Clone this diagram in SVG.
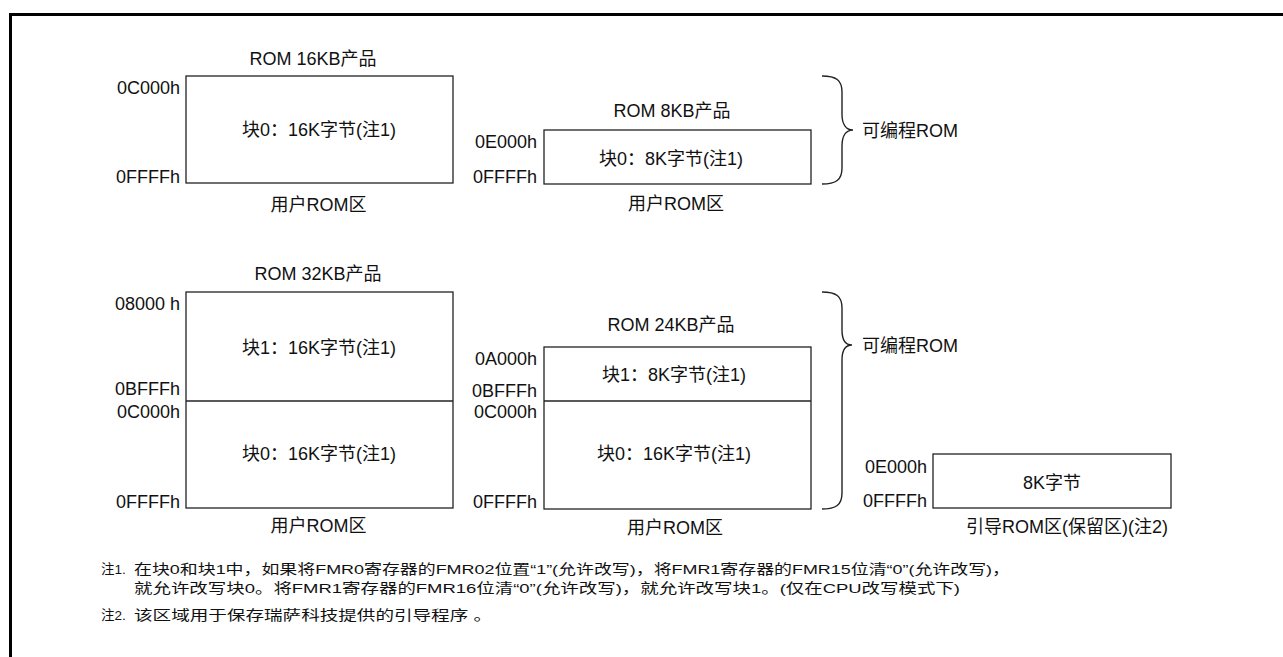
<svg xmlns="http://www.w3.org/2000/svg" width="1283" height="657" viewBox="0 0 1283 657">
<style>
.t{font-family:"Liberation Sans","Noto Sans CJK SC",sans-serif;font-size:18px;fill:#111}
.r{text-anchor:end}
.m{text-anchor:middle}
.n{font-size:13.5px}
.box{fill:#fff;stroke:#222;stroke-width:1.3}
.ln{stroke:#222;stroke-width:1.3;fill:none}
.brace{fill:none;stroke:#222;stroke-width:1.4}
</style>
<rect width="1283" height="657" fill="#fff"/>
<path d="M10.5,657 V14.5 H1283" fill="none" stroke="#000" stroke-width="3"/>

<g id="rom16">
<text class="t m" x="313" y="65">ROM 16KB产品</text>
<rect class="box" x="186" y="76" width="267" height="107"/>
<text class="t r" x="180" y="94">0C000h</text>
<text class="t r" x="180" y="183">0FFFFh</text>
<text class="t m" x="319" y="136">块0：16K字节(注1)</text>
<text class="t m" x="318.5" y="211">用户ROM区</text>
</g>

<g id="rom8">
<text class="t m" x="672" y="117">ROM 8KB产品</text>
<rect class="box" x="544" y="130" width="267" height="54"/>
<text class="t r" x="537" y="148">0E000h</text>
<text class="t r" x="537" y="183">0FFFFh</text>
<text class="t m" x="671" y="165">块0：8K字节(注1)</text>
<text class="t m" x="676" y="210">用户ROM区</text>
</g>

<g id="rom32">
<text class="t m" x="318" y="280">ROM 32KB产品</text>
<rect class="box" x="186" y="292" width="267" height="216"/>
<line class="ln" x1="186" y1="401" x2="453" y2="401"/>
<text class="t r" x="180" y="310">08000 h</text>
<text class="t r" x="180" y="395">0BFFFh</text>
<text class="t r" x="180" y="418">0C000h</text>
<text class="t r" x="180" y="508">0FFFFh</text>
<text class="t m" x="319" y="354">块1：16K字节(注1)</text>
<text class="t m" x="319" y="460">块0：16K字节(注1)</text>
<text class="t m" x="318.5" y="532">用户ROM区</text>
</g>

<g id="rom24">
<text class="t m" x="671" y="331">ROM 24KB产品</text>
<rect class="box" x="544" y="347" width="267" height="162"/>
<line class="ln" x1="544" y1="401" x2="811" y2="401"/>
<text class="t r" x="537" y="365">0A000h</text>
<text class="t r" x="537" y="397">0BFFFh</text>
<text class="t r" x="537" y="418">0C000h</text>
<text class="t r" x="537" y="508">0FFFFh</text>
<text class="t m" x="674" y="381">块1：8K字节(注1)</text>
<text class="t m" x="674" y="460">块0：16K字节(注1)</text>
<text class="t m" x="675" y="534">用户ROM区</text>
</g>

<g id="bootrom">
<rect class="box" x="933" y="454" width="238" height="54"/>
<text class="t r" x="927" y="473">0E000h</text>
<text class="t r" x="927" y="507">0FFFFh</text>
<text class="t m" x="1052" y="489">8K字节</text>
<text class="t m" x="1067" y="533">引导ROM区(保留区)(注2)</text>
</g>

<g id="connectors">
<path class="brace" d="M822,76 C836,76 842,80 842,92 V114 C842,124 846,130 853,130 C846,130 842,136 842,146 V168 C842,180 836,184 822,184"/>
<path class="brace" d="M822,292 C836,292 842,296 842,308 V330 C842,340 846,345 852,345 C846,345 842,350 842,360 V493 C842,505 836,509 822,509"/>
</g>

<g id="prog1">
<text class="t" x="862" y="137">可编程ROM</text>
</g>
<g id="prog2">
<text class="t" x="862" y="352">可编程ROM</text>
</g>

<g id="notes">
<text class="t n" x="101" y="574">注1.</text>
<text class="t n" x="134" y="574" textLength="876" lengthAdjust="spacingAndGlyphs">在块0和块1中，如果将FMR0寄存器的FMR02位置“1”(允许改写)，将FMR1寄存器的FMR15位清“0”(允许改写)，</text>
<text class="t n" x="134" y="593" textLength="826" lengthAdjust="spacingAndGlyphs">就允许改写块0。将FMR1寄存器的FMR16位清“0”(允许改写)，就允许改写块1。(仅在CPU改写模式下)</text>
<text class="t n" x="101" y="620">注2.</text>
<text class="t n" x="134" y="620" textLength="358" lengthAdjust="spacingAndGlyphs">该区域用于保存瑞萨科技提供的引导程序 。</text>
</g>
</svg>
